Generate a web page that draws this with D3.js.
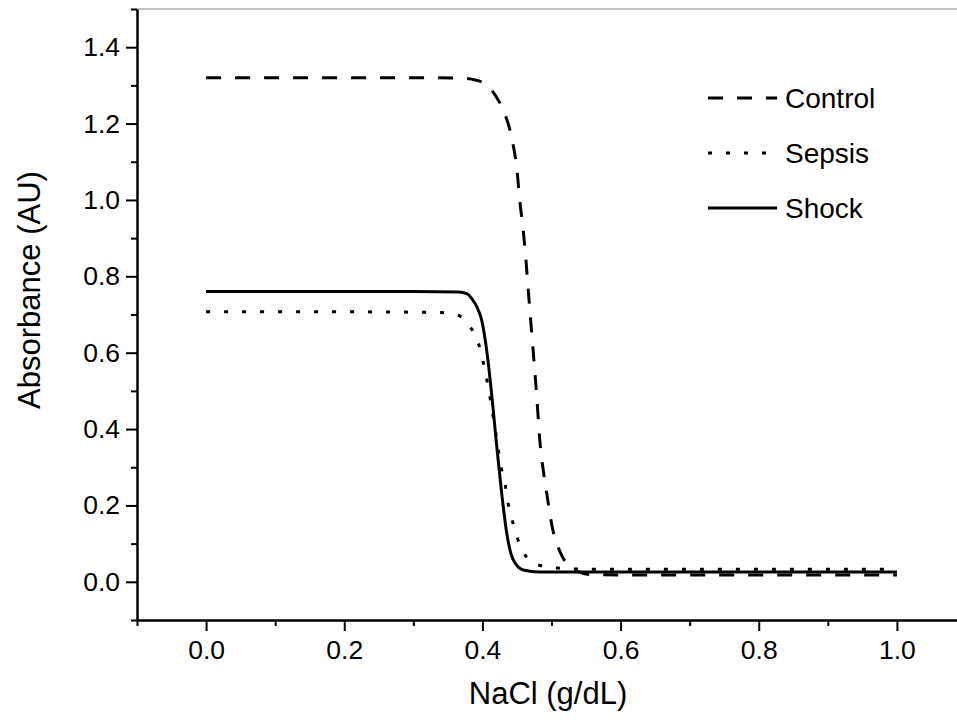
<!DOCTYPE html>
<html>
<head>
<meta charset="utf-8">
<script src="https://cdn.jsdelivr.net/npm/d3@7"></script>
<style>
  body { margin: 0; background: #fff; }
  svg { display: block; overflow: hidden; }
  text { font-family: "Liberation Sans", Arial, sans-serif; fill: #000; }
</style>
</head>
<body>
<div id="chart"></div>
<script>
// Data
const seriesNames = ["Control", "Sepsis", "Shock"];

const controlX = [0, 0.1, 0.2, 0.3, 0.37, 0.39, 0.407, 0.42, 0.43, 0.443, 0.45, 0.454, 0.459, 0.463, 0.466, 0.469, 0.473, 0.479, 0.483, 0.488, 0.493, 0.501, 0.512, 0.525, 0.54, 0.555, 0.6, 0.7, 0.8, 0.9, 1.0];
const controlY = [1.32, 1.32, 1.32, 1.32, 1.319, 1.314, 1.30, 1.27, 1.236, 1.157, 1.079, 1.0, 0.921, 0.843, 0.772, 0.704, 0.615, 0.476, 0.372, 0.293, 0.233, 0.144, 0.08, 0.042, 0.026, 0.019, 0.018, 0.018, 0.018, 0.018, 0.018];

const sepsisX = [0, 0.1, 0.2, 0.3, 0.34, 0.363, 0.382, 0.394, 0.401, 0.411, 0.421, 0.427, 0.433, 0.437, 0.443, 0.45, 0.459, 0.479, 0.508, 0.55, 0.6, 0.7, 0.8, 0.9, 1.0];
const sepsisY = [0.707, 0.707, 0.707, 0.706, 0.705, 0.699, 0.668, 0.626, 0.576, 0.484, 0.37, 0.301, 0.254, 0.207, 0.162, 0.118, 0.079, 0.045, 0.036, 0.033, 0.033, 0.033, 0.033, 0.033, 0.033];

const shockX = [0, 0.1, 0.2, 0.3, 0.365, 0.378, 0.386, 0.392, 0.399, 0.407, 0.414, 0.421, 0.428, 0.435, 0.444, 0.459, 0.483, 0.52, 0.6, 0.7, 0.8, 0.9, 1.0];
const shockY = [0.76, 0.76, 0.76, 0.76, 0.759, 0.754, 0.738, 0.72, 0.685, 0.595, 0.48, 0.35, 0.23, 0.13, 0.06, 0.031, 0.026, 0.026, 0.026, 0.026, 0.026, 0.026, 0.026];

const xTicks = [0, 0.2, 0.4, 0.6, 0.8, 1.0];
const xMinor = [-0.1, 0.1, 0.3, 0.5, 0.7, 0.9, 1.1];
const yTicks = [0, 0.2, 0.4, 0.6, 0.8, 1.0, 1.2, 1.4];
const yMinor = [-0.1, 0.1, 0.3, 0.5, 0.7, 0.9, 1.1, 1.3, 1.5];

// Dimensions
const W = 957, H = 725;
const margin = {top: 9, left: 137, bottom: 105, right: -9};
const width = W - margin.left - margin.right,
      height = H - margin.top - margin.bottom;

const svg = d3.select("#chart")
  .append("svg")
    .attr("width", W)
    .attr("height", H)
  .append("g")
    .attr("transform", `translate(${margin.left},${margin.top})`);

const x = d3.scaleLinear().domain([-0.1, 1.1]).range([0, width]);
const y = d3.scaleLinear().domain([-0.1, 1.5]).range([height, 0]);

// top frame line
svg.append("line")
  .attr("x1", 0).attr("x2", width)
  .attr("y1", 0).attr("y2", 0)
  .attr("stroke", "#8a8a8a")
  .attr("stroke-width", 1.2);

// X axis
svg.append("g")
  .attr("transform", `translate(0,${height})`)
  .call(d3.axisBottom(x).tickValues(xTicks).tickSize(11).tickSizeOuter(0)
    .tickPadding(9).tickFormat(d3.format(".1f")));
svg.append("g")
  .attr("transform", `translate(0,${height})`)
  .call(d3.axisBottom(x).tickValues(xMinor).tickSize(6).tickFormat(""))
  .select(".domain").remove();

// Y axis
svg.append("g")
  .call(d3.axisLeft(y).tickValues(yTicks).tickSize(11).tickSizeOuter(0)
    .tickPadding(6).tickFormat(d3.format(".1f")));
svg.append("g")
  .call(d3.axisLeft(y).tickValues(yMinor).tickSize(6).tickFormat(""))
  .select(".domain").remove();

svg.selectAll(".tick line").attr("stroke", "#000").attr("stroke-width", 2);
svg.selectAll(".domain").attr("stroke", "#000").attr("stroke-width", 2.5);
svg.selectAll(".tick text")
  .style("font-size", "26.5px")
  .style("font-family", "'Liberation Sans', Arial, sans-serif");

// Axis titles
svg.append("text")
  .attr("x", (957 - margin.left) / 2 + 1)
  .attr("y", height + 84)
  .style("text-anchor", "middle")
  .style("font-size", "31px")
  .text("NaCl (g/dL)");

svg.append("text")
  .attr("transform", "rotate(-90)")
  .attr("x", -(290 - margin.top))
  .attr("y", -margin.left + 40)
  .style("text-anchor", "middle")
  .style("font-size", "31px")
  .text("Absorbance (AU)");

// Lines
const series = [
  {name: "Control", xs: controlX, ys: controlY, dash: "15,14"},
  {name: "Sepsis", xs: sepsisX, ys: sepsisY, dash: "4,14"},
  {name: "Shock", xs: shockX, ys: shockY, dash: null}
];

const line = d3.line()
  .x(d => x(d[0]))
  .y(d => y(d[1]))
  .curve(d3.curveMonotoneX);

series.forEach(function(s, i) {
  const pts = s.xs.map((v, j) => [v, s.ys[j]]);
  svg.append("path")
    .datum(pts)
    .attr("fill", "none")
    .attr("stroke", "#000")
    .attr("stroke-width", 3)
    .attr("stroke-dasharray", s.dash)
    .attr("d", line);

  // legend
  const ly = 89 + i * 55;
  svg.append("line")
    .attr("x1", 708 - margin.left)
    .attr("x2", (s.name === "Sepsis" ? 767 : 777) - margin.left)
    .attr("y1", ly).attr("y2", ly)
    .attr("stroke", "#000")
    .attr("stroke-width", 3)
    .attr("stroke-dasharray", s.dash);
  svg.append("text")
    .attr("x", 785 - margin.left)
    .attr("y", ly)
    .attr("dy", "0.36em")
    .style("font-size", "28px")
    .text(s.name);
});
</script>
</body>
</html>
